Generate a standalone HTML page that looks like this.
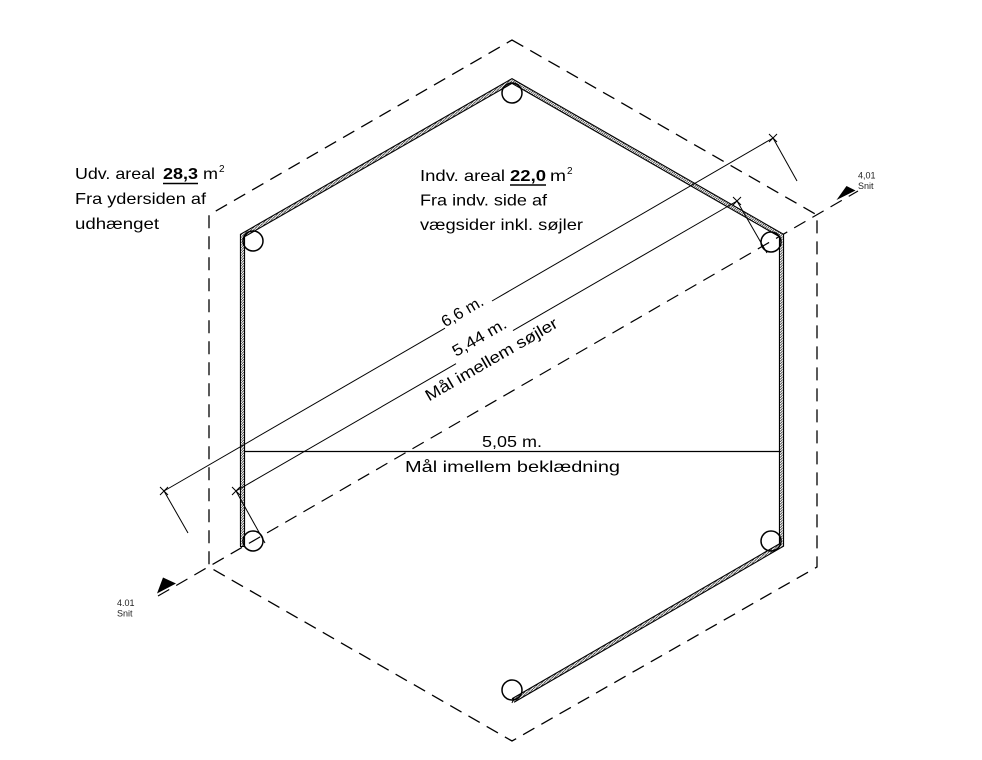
<!DOCTYPE html>
<html><head><meta charset="utf-8"><style>
html,body{margin:0;padding:0;background:#fff;}
svg{display:block;}
.c{font-family:"Liberation Sans",sans-serif;}
</style></head><body>
<svg width="982" height="760" viewBox="0 0 982 760" xmlns="http://www.w3.org/2000/svg">
<defs>
<pattern id="h" patternUnits="userSpaceOnUse" width="2.6" height="2.6">
<rect width="2.6" height="2.6" fill="#fff"/>
<path d="M-1 3.6 L3.6 -1" stroke="#222" stroke-width="0.8"/>
</pattern>
</defs>
<rect width="982" height="760" fill="#fff"/>
<!-- outer dashed hexagon -->
<polygon points="512,40 817,215 817,567 512,741 209,567 209,215" fill="none" stroke="#000" stroke-width="1.3" stroke-dasharray="13 8"/>
<!-- section line -->
<path d="M158 596 L858 191" stroke="#000" stroke-width="1.2" stroke-dasharray="13 8" fill="none"/>
<polygon points="157,593.5 163,577.5 176,583.5" fill="#000"/>
<polygon points="836.5,200 846.5,186 855.5,190.5" fill="#000"/>
<!-- wall -->
<path d="M242.5 546.5 L242.5 235.5 L512 81 L781.5 235.5 L781.5 545 L513 700.5" fill="none" stroke="#000" stroke-width="5.2" stroke-linejoin="miter"/>
<path d="M242.5 546.5 L242.5 235.5 L512 81 L781.5 235.5 L781.5 545 L513 700.5" fill="none" stroke="url(#h)" stroke-width="3" stroke-linejoin="miter"/>
<line x1="240" y1="546.5" x2="245" y2="546.5" stroke="#000" stroke-width="1"/>
<line x1="512" y1="703" x2="514" y2="698" stroke="#000" stroke-width="1"/>
<!-- columns -->
<g fill="none" stroke="#000" stroke-width="1.5">
<circle cx="512" cy="93" r="10"/>
<circle cx="253" cy="241" r="10"/>
<circle cx="771" cy="242" r="10"/>
<circle cx="253" cy="541" r="10"/>
<circle cx="771" cy="541" r="10"/>
<circle cx="512" cy="690" r="10"/>
</g>
<!-- dimension lines -->
<g stroke="#000" stroke-width="1" fill="none">
<path d="M164 491 L445 328.2"/>
<path d="M492 301 L773 138"/>
<path d="M773 138 L797 181"/>
<path d="M164 491 L188 533"/>
<path d="M236 491 L456 363.7"/>
<path d="M513 330.6 L737 201"/>
<path d="M737 201 L767 253"/>
<path d="M236 491 L265 543"/>
<path d="M160 487 L168 495 M160 495 L168 487"/>
<path d="M769 134 L777 142 M769 142 L777 134"/>
<path d="M232 487 L240 495 M232 495 L240 487"/>
<path d="M733 197 L741 205 M733 205 L741 197"/>
</g>
<line x1="244" y1="451.5" x2="781" y2="451.5" stroke="#000" stroke-width="1.3"/>
<!-- dimension texts -->
<g class="c" font-size="16" fill="#000" text-anchor="middle">
<text transform="translate(465,316) rotate(-30)" x="0" y="0" textLength="46" lengthAdjust="spacingAndGlyphs">6,6 m.</text>
<text transform="translate(482,342) rotate(-30)" x="0" y="0" textLength="60" lengthAdjust="spacingAndGlyphs">5,44 m.</text>
<text transform="translate(494,364) rotate(-30)" x="0" y="0" textLength="150" lengthAdjust="spacingAndGlyphs">Mål imellem søjler</text>
<text x="512" y="447" textLength="60" lengthAdjust="spacingAndGlyphs">5,05 m.</text>
<text x="512.5" y="472" textLength="215" lengthAdjust="spacingAndGlyphs">Mål imellem beklædning</text>
</g>
<!-- area texts -->
<g class="c" font-size="16" fill="#000">
<text x="75" y="179" textLength="80" lengthAdjust="spacingAndGlyphs">Udv. areal</text>
<text x="163" y="179" font-weight="bold" textLength="35" lengthAdjust="spacingAndGlyphs">28,3</text>
<text x="203" y="179" textLength="15" lengthAdjust="spacingAndGlyphs">m</text>
<text x="219" y="172" font-size="10">2</text>
<text x="75" y="204" textLength="131" lengthAdjust="spacingAndGlyphs">Fra ydersiden af</text>
<text x="75" y="229" textLength="84" lengthAdjust="spacingAndGlyphs">udhænget</text>
<text x="420" y="181" textLength="85" lengthAdjust="spacingAndGlyphs">Indv. areal</text>
<text x="510" y="181" font-weight="bold" textLength="36" lengthAdjust="spacingAndGlyphs">22,0</text>
<text x="550" y="181" textLength="16" lengthAdjust="spacingAndGlyphs">m</text>
<text x="567" y="174" font-size="10">2</text>
<text x="420" y="205.5" textLength="127" lengthAdjust="spacingAndGlyphs">Fra indv. side af</text>
<text x="420" y="230" textLength="163" lengthAdjust="spacingAndGlyphs">vægsider inkl. søjler</text>
</g>
<line x1="163" y1="183.5" x2="198" y2="183.5" stroke="#000" stroke-width="1.5"/>
<line x1="510" y1="185" x2="546" y2="185" stroke="#000" stroke-width="1.5"/>
<!-- section labels -->
<g class="c" font-size="9" fill="#222">
<text x="858" y="178.5">4,01</text>
<text x="858" y="189">Snit</text>
<text x="117" y="606">4.01</text>
<text x="117" y="616.5">Snit</text>
</g>
</svg>
</body></html>
